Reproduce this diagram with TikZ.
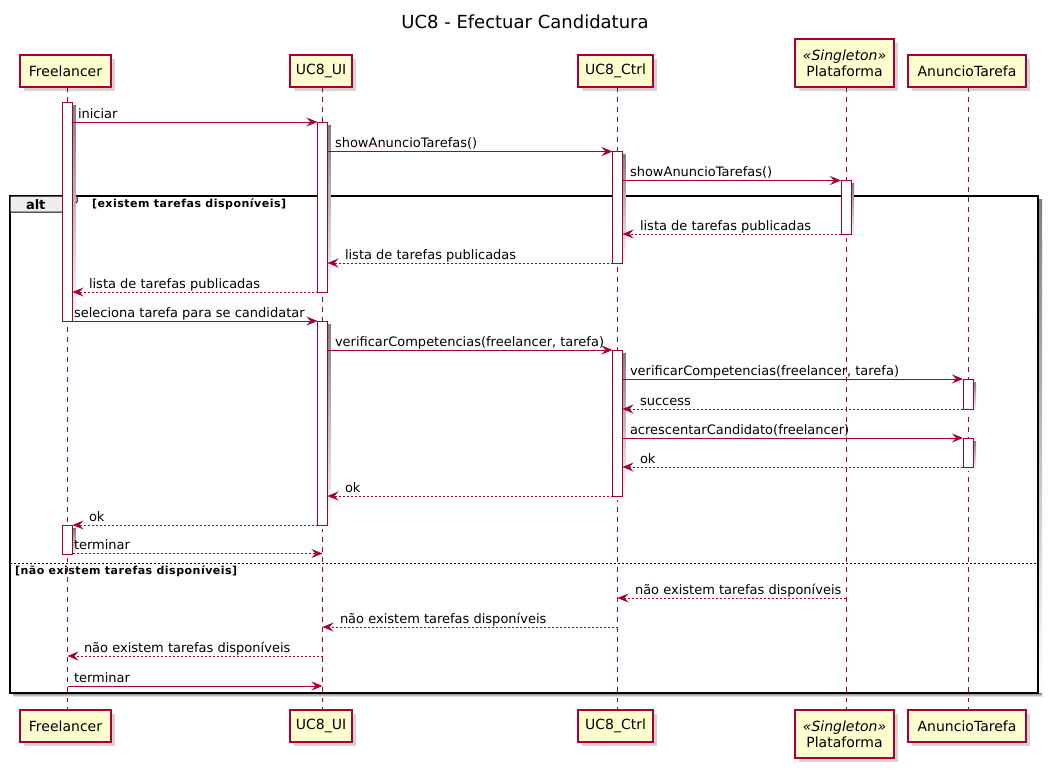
\documentclass[tikz,border=0pt]{standalone}
\usepackage{fontspec}
\setmainfont{DejaVu Sans}
\newfontfamily\framefont{DejaVu Sans}[LetterSpace=4.5]
\usetikzlibrary{arrows.meta,shadows}
\definecolor{pred}{HTML}{A80036}
\definecolor{pfill}{HTML}{FEFECE}
\definecolor{tabfill}{HTML}{EEEEEE}
\definecolor{shade}{HTML}{C8C8C8}
\newcommand\seqmsg[7]{%
  \coordinate (#1a) at (#2,#4);
  \coordinate (#1b) at (#3,#4);
  \draw[#5] (#1a) -- (#1b);
  \node[lbl] (#1t) at (#6,#4-4) {#7};}
\newcommand\actbox[4]{%
  \fill[shade] (#2-5+3,#3+3) rectangle (#2+5+3,#4+3);
  \draw[actst] (#2-5,#3) rectangle (#2+5,#4);
  \coordinate (#1) at (#2,#3);}
\begin{document}
\begin{tikzpicture}[x=1pt,y=-1pt,
  every node/.style={inner sep=0pt,outer sep=0pt},
  head/.style={draw=pred,fill=pfill,line width=1.1pt,align=center,
    font=\fontsize{14}{16}\selectfont,
    drop shadow={shadow xshift=4pt,shadow yshift=-4pt,fill=shade,opacity=0.8}},
  lifeline/.style={draw=pred,line width=0.9pt,dash pattern=on 5pt off 5pt},
  actst/.style={draw=pred,fill=white,line width=1pt},
  lbl/.style={anchor=base west,font=\fontsize{13}{15}\selectfont},
  call/.style={draw=pred,line width=1pt,-{Stealth[length=11pt,width=9pt,inset=4pt]}},
  ret/.style={call,dash pattern=on 2pt off 2pt},
  frm/.style={draw=black,line width=1.6pt},
  guard/.style={anchor=base west,font=\framefont\bfseries\fontsize{11}{13}\selectfont}]
\useasboundingbox (0,0) rectangle (1052,769);
% title
\node[font=\fontsize{18}{21}\selectfont] (title) at (525,22) {UC8 - Efectuar Candidatura};
% heads
\node[head,minimum width=91pt,minimum height=32pt] (flT) at (65.5,71) {Freelancer};
\node[head,minimum width=62pt,minimum height=32pt] (uiT) at (321,71) {UC8\_UI};
\node[head,minimum width=75pt,minimum height=32pt] (ctT) at (615.5,71) {UC8\_Ctrl};
\node[head,minimum width=99pt,minimum height=48pt] (plT) at (844.5,63) {{\itshape «Singleton»}\\Plataforma};
\node[head,minimum width=118pt,minimum height=32pt] (anT) at (967,71) {AnuncioTarefa};
% feet
\node[head,minimum width=91pt,minimum height=32pt] (flB) at (65.5,726) {Freelancer};
\node[head,minimum width=62pt,minimum height=32pt] (uiB) at (321,726) {UC8\_UI};
\node[head,minimum width=75pt,minimum height=32pt] (ctB) at (615.5,726) {UC8\_Ctrl};
\node[head,minimum width=99pt,minimum height=48pt] (plB) at (844.5,734) {{\itshape «Singleton»}\\Plataforma};
\node[head,minimum width=118pt,minimum height=32pt] (anB) at (967,726) {AnuncioTarefa};
% lifelines
\draw[lifeline] ([xshift=2pt]flT.south) -- ([xshift=2pt]flB.north);
\draw[lifeline] ([xshift=1.5pt]uiT.south) -- ([xshift=1.5pt]uiB.north);
\draw[lifeline] ([xshift=2pt]ctT.south) -- ([xshift=2pt]ctB.north);
\draw[lifeline] ([xshift=1.5pt]plT.south) -- ([xshift=1.5pt]plB.north);
\draw[lifeline] ([xshift=1pt]anT.south) -- ([xshift=1pt]anB.north);
% alt frame
\fill[shade] (1038,199) rectangle (1042,697);
\fill[shade] (13,693) rectangle (1042,697);
\draw[frm] (10,196) rectangle (1038,693);
\filldraw[fill=tabfill,draw=black,line width=1pt] (10,196) -- (77,196) -- (77,202) -- (67,212) -- (10,212) -- cycle;
\node[font=\bfseries\fontsize{13}{15}\selectfont,anchor=base west] (altlbl) at (26,209) {alt};
\node[guard] (g1) at (92,207) {[existem tarefas disponíveis]};
\draw[black,line width=1pt,dash pattern=on 2pt off 2pt] (10,563) -- (1038,563);
\node[guard] (g2) at (15,574) {[não existem tarefas disponíveis]};
% activations
\actbox{aF1}{67.5}{102}{321}
\actbox{aF2}{67.5}{525}{554}
\actbox{aU1}{322.5}{122}{292}
\actbox{aU2}{322.5}{321}{525}
\actbox{aC1}{617.5}{151.5}{263}
\actbox{aC2}{617.5}{350}{496}
\actbox{aP1}{846}{180.5}{234}
\actbox{aA1}{968}{379}{409}
\actbox{aA2}{968}{438}{467}
% messages
\seqmsg{m1}{72.5}{317.5}{122}{call}{78}{iniciar}
\seqmsg{m2}{327.5}{612.5}{151.5}{call}{335}{showAnuncioTarefas()}
\seqmsg{m3}{622.5}{841}{180.5}{call}{630}{showAnuncioTarefas()}
\seqmsg{m4}{841}{622.5}{234}{ret}{640}{lista de tarefas publicadas}
\seqmsg{m5}{612.5}{327.5}{263}{ret}{345}{lista de tarefas publicadas}
\seqmsg{m6}{317.5}{72.5}{292}{ret}{89}{lista de tarefas publicadas}
\seqmsg{m7}{72.5}{317.5}{321}{call}{74}{seleciona tarefa para se candidatar}
\seqmsg{m8}{327.5}{612.5}{350}{call}{335}{verificarCompetencias(freelancer, tarefa)}
\seqmsg{m9}{622.5}{963}{379}{call}{630}{verificarCompetencias(freelancer, tarefa)}
\seqmsg{m10}{963}{622.5}{409}{ret}{640}{success}
\seqmsg{m11}{622.5}{963}{438}{call}{630}{acrescentarCandidato(freelancer)}
\seqmsg{m12}{963}{622.5}{467}{ret}{640}{ok}
\seqmsg{m13}{612.5}{327.5}{496}{ret}{345}{ok}
\seqmsg{m14}{317.5}{72.5}{525}{ret}{89}{ok}
\seqmsg{m15}{72.5}{322.5}{553.5}{ret}{74}{terminar}
\seqmsg{m16}{846}{617.5}{598}{ret}{635}{não existem tarefas disponíveis}
\seqmsg{m17}{617.5}{322.5}{627}{ret}{340}{não existem tarefas disponíveis}
\seqmsg{m18}{322.5}{67.5}{656}{ret}{84}{não existem tarefas disponíveis}
\seqmsg{m19}{67.5}{322.5}{686}{call}{74}{terminar}
\end{tikzpicture}
\end{document}
